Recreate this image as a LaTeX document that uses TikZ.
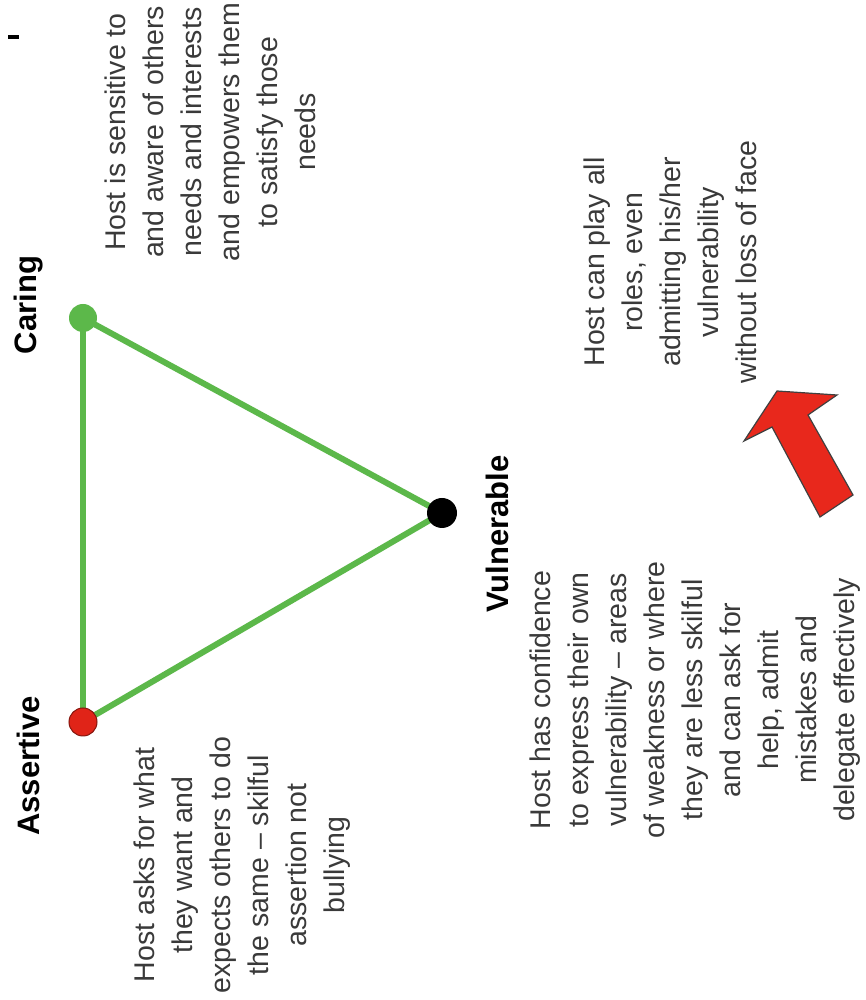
\documentclass[tikz,border=0pt]{standalone}
\usepackage{fontspec}
\setmainfont{Liberation Sans}
\newfontfamily\handfont[Ligatures=TeX]{Liberation Sans}
\definecolor{linegreen}{HTML}{5CB84A}
\definecolor{dotred}{HTML}{E02418}
\definecolor{arrowred}{HTML}{E8281C}
\definecolor{handgray}{HTML}{3A3A3A}
\begin{document}
\begin{tikzpicture}[x=1pt,y=1pt,
  vertex/.style={circle,minimum size=28pt,inner sep=0pt},
  corner/.style={font=\fontsize{31}{36}\selectfont\bfseries,rotate=90,inner sep=0pt,text=black},
  desc/.style={font=\handfont\fontsize{28.5}{38}\selectfont,rotate=90,align=center,inner sep=0pt,text=handgray},
  edge/.style={draw=linegreen,line width=6pt}]
\useasboundingbox (0,0) rectangle (865,1000);
\fill[white] (0,0) rectangle (865,1000);
% small bar top-left
\fill[black] (8,961) rectangle (19,965);
% vertices
\coordinate (A) at (83,278);
\coordinate (C) at (83,682);
\coordinate (V) at (442,487);
\draw[edge] (A) -- (C);
\draw[edge] (A) -- (V);
\draw[edge] (C) -- (V);
\node[vertex,fill=dotred,draw=dotred!60!black,line width=1pt] (Ad) at (A) {};
\node[vertex,fill=linegreen] (Cd) at (C) {};
\node[vertex,fill=black,minimum size=30pt] (Vd) at (V) {};
% corner labels
\node[corner] (Al) at (28,234) {Assertive};
\node[corner] (Cl) at (29,695) {Caring};
\node[corner] (Vl) at (497,466) {Vulnerable};
% descriptions
\node[desc] (Adesc) at (242,135) {Host asks for what\\they want and\\expects others to do\\the same – skilful\\assertion not\\bullying};
\node[desc] (Cdesc) at (210,868) {Host is sensitive to\\and aware of others\\needs and interests\\and empowers them\\to satisfy those\\needs};
\node[desc] (Vdesc) at (695,300) {Host has confidence\\to express their own\\vulnerability – areas\\of weakness or where\\they are less skilful\\and can ask for\\help, admit\\mistakes and\\delegate effectively};
\node[desc] (Mdesc) at (670,738) {Host can play all\\roles, even\\admitting his/her\\vulnerability\\without loss of face};
% red block arrow
\filldraw[fill=arrowred,draw=black!75,line width=1.2pt,line join=miter]
  (777,609) -- (837,605) -- (808,585) -- (853,505) -- (820,483) -- (772,573) -- (744,559) -- cycle;
\end{tikzpicture}
\end{document}
